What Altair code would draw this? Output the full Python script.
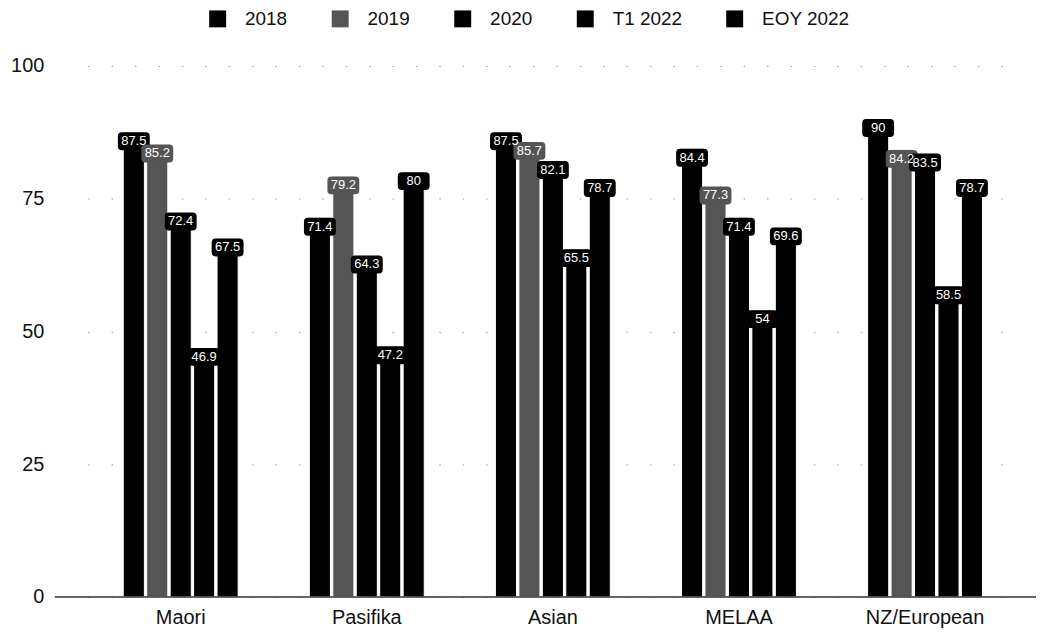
import altair as alt
import pandas as pd

# Share of students by group, five measurement points
groups = ["Maori", "Pasifika", "Asian", "MELAA", "NZ/European"]
series = ["2018", "2019", "2020", "T1 2022", "EOY 2022"]
v2018 = [87.5, 71.4, 87.5, 84.4, 90]
v2019 = [85.2, 79.2, 85.7, 77.3, 84.2]
v2020 = [72.4, 64.3, 82.1, 71.4, 83.5]
vt1_2022 = [46.9, 47.2, 65.5, 54.0, 58.5]
veoy_2022 = [67.5, 80, 78.7, 69.6, 78.7]
y_ticks = [0, 25, 50, 75, 100]

colors = ["#000000", "#555555", "#000000", "#000000", "#000000"]

rows = []
for name, vals in zip(series, [v2018, v2019, v2020, vt1_2022, veoy_2022]):
    for g, v in zip(groups, vals):
        rows.append({"group": g, "series": name, "value": v, "label": f"{v:g}"})
df = pd.DataFrame(rows)

FONT = "Liberation Sans"
W, H = 934, 533

x_enc = alt.X(
    "group:N",
    sort=groups,
    title=None,
    scale=alt.Scale(paddingInner=0.37, paddingOuter=0.185),
    axis=alt.Axis(labelAngle=0, labelFontSize=20, labelFont=FONT, labelColor="#111",
                  labelPadding=11, ticks=False, domain=False, grid=False),
)
xoff_enc = alt.XOffset("series:N", sort=series,
                       scale=alt.Scale(paddingInner=0.1, paddingOuter=0.05))
y_enc = alt.Y(
    "value:Q",
    title=None,
    scale=alt.Scale(domain=[0, 100], nice=False),
    axis=alt.Axis(values=y_ticks, labelFontSize=20, labelFont=FONT, labelColor="#111",
                  labelPadding=44, ticks=False, domain=False,
                  gridColor="#9a9a9a", gridDash=[1.5, 22], gridWidth=1),
)
color_enc = alt.Color(
    "series:N",
    sort=series,
    scale=alt.Scale(domain=series, range=colors),
    legend=alt.Legend(
        title=None, orient="none", direction="horizontal",
        legendX=121, legendY=-57,
        symbolType="square", symbolSize=289, symbolStrokeWidth=0,
        labelFontSize=19, labelFont=FONT, labelColor="#111",
        labelOffset=18, columnPadding=43,
    ),
)

base = alt.Chart(df)

bars = base.mark_bar(stroke="white", strokeWidth=1).encode(
    x=x_enc, xOffset=xoff_enc, y=y_enc, color=color_enc
)

# rounded label badge drawn as a custom symbol path
box_path = ("M-0.75,-0.56 L0.75,-0.56 Q1,-0.56 1,-0.31 L1,0.31 Q1,0.56 0.75,0.56 "
            "L-0.75,0.56 Q-1,0.56 -1,0.31 L-1,-0.31 Q-1,-0.56 -0.75,-0.56 Z")
label_boxes = base.mark_point(shape=box_path, size=1024, filled=True, opacity=1,
                              yOffset=9).encode(
    x=alt.X("group:N", sort=groups),
    xOffset=alt.XOffset("series:N", sort=series),
    y="value:Q",
    color=alt.Color("series:N", sort=series, legend=None),
)

label_text = base.mark_text(color="white", font=FONT, fontSize=13, yOffset=9,
                            baseline="middle", align="center").encode(
    x=alt.X("group:N", sort=groups),
    xOffset=alt.XOffset("series:N", sort=series),
    y="value:Q",
    text="label:N",
)

baseline = alt.Chart(pd.DataFrame({"v": [0]})).mark_rule(color="#333", strokeWidth=1.5).encode(
    x=alt.value(-33), x2=alt.value(952), y=alt.Y("v:Q")
)

chart = (
    alt.layer(bars, label_boxes, label_text, baseline)
    .properties(width=W, height=H, background="white",
                padding={"left": 10, "top": 8, "right": 5, "bottom": 5})
    .configure_view(stroke=None)
)

chart.save("out.html", embed_options={"renderer": "svg", "actions": False})
